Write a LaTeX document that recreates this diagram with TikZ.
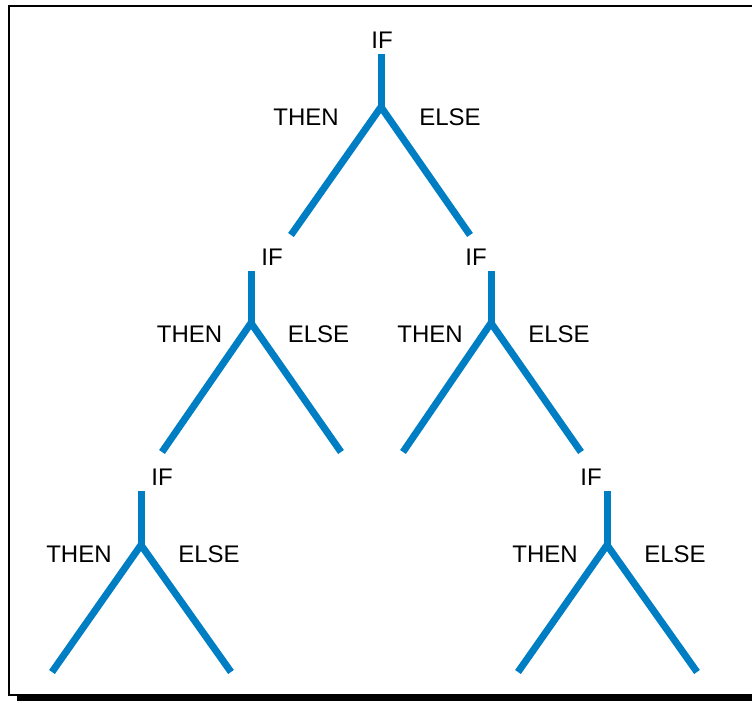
\documentclass[tikz,border=0pt]{standalone}
\usepackage{fontspec}
\setmainfont{Liberation Sans}
\definecolor{treeblue}{RGB}{0,126,196}
\begin{document}
\begin{tikzpicture}[x=1pt,y=-1pt,
  branch/.style={draw=treeblue,line width=7pt,line cap=butt,line join=miter},
  lbl/.style={font=\fontsize{24}{28}\selectfont,inner sep=0pt,anchor=center}]
\useasboundingbox (0,0) rectangle (752,702);
% frame with shadow
\fill[black] (17,696) rectangle (760,701);
\draw[line width=2pt,black] (760,6) -- (9,6) -- (9,694.5) -- (760,694.5);
% junction coordinates
\coordinate (t0) at (381,54);   \coordinate (j0) at (381,107);
\coordinate (l0) at (291,235);  \coordinate (r0) at (470,235);
\coordinate (t1) at (251,271);  \coordinate (j1) at (251,323);
\coordinate (l1) at (162,452);  \coordinate (r1) at (341,452);
\coordinate (t2) at (491,271);  \coordinate (j2) at (491,323);
\coordinate (l2) at (403,452);  \coordinate (r2) at (581,452);
\coordinate (t3) at (141,491);  \coordinate (j3) at (141,545);
\coordinate (l3) at (52,672);   \coordinate (r3) at (231,672);
\coordinate (t4) at (607,491);  \coordinate (j4) at (607,545);
\coordinate (l4) at (518,672);  \coordinate (r4) at (697,672);
\foreach \i in {0,1,2,3,4}{
  \draw[branch] (t\i) -- (j\i);
  \draw[branch] (l\i) -- (j\i) -- (r\i);
}
% labels
\node[lbl] (if0) at (382,40) {IF};
\node[lbl] (th0) at (306,117) {THEN};
\node[lbl] (el0) at (450,117) {ELSE};
\node[lbl] (if1) at (272,257) {IF};
\node[lbl] (th1) at (189.5,334) {THEN};
\node[lbl] (el1) at (318.5,334) {ELSE};
\node[lbl] (if2) at (476,257) {IF};
\node[lbl] (th2) at (430,334) {THEN};
\node[lbl] (el2) at (559,334) {ELSE};
\node[lbl] (if3) at (162,477) {IF};
\node[lbl] (th3) at (79,554) {THEN};
\node[lbl] (el3) at (209,554) {ELSE};
\node[lbl] (if4) at (591,477) {IF};
\node[lbl] (th4) at (545,554) {THEN};
\node[lbl] (el4) at (675,554) {ELSE};
\end{tikzpicture}
\end{document}
